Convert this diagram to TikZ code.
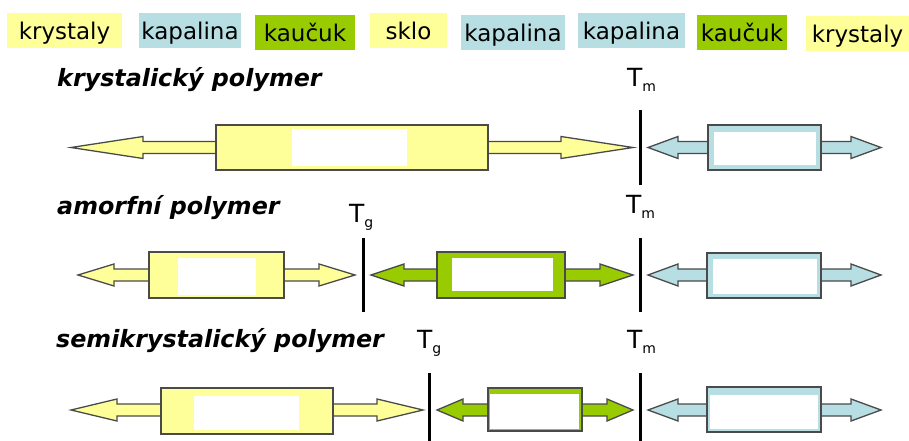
\documentclass[tikz,border=0pt]{standalone}
\usepackage{fontspec}
\setmainfont{DejaVu Sans}
\definecolor{zluta}{HTML}{FFFF99}
\definecolor{modra}{HTML}{B7DEE2}
\definecolor{zelena}{HTML}{99CC00}
\definecolor{obrys}{HTML}{4A4A4A}
\newcommand{\tlabel}[1]{T\raisebox{-5pt}{\fontsize{14}{14}\selectfont #1}}
\newcommand{\twoway}[5]{%
  \path[draw=obrys, line width=1.3pt, fill=#5] (#1,#3) -- ({#1+#4},{#3-11}) -- ({#1+#4},{#3-6})
    -- ({#2-#4},{#3-6}) -- ({#2-#4},{#3-11}) -- (#2,#3) -- ({#2-#4},{#3+11})
    -- ({#2-#4},{#3+6}) -- ({#1+#4},{#3+6}) -- ({#1+#4},{#3+11}) -- cycle;}
\begin{document}
\begin{tikzpicture}[x=1pt, y=-1pt,
  lab/.style={anchor=base, inner xsep=0pt, inner ysep=0pt, text height=27pt, text depth=8pt, font=\fontsize{23}{23}\selectfont},
  title/.style={anchor=base west, inner sep=0pt, font=\fontsize{23.8}{24}\selectfont\bfseries\itshape},
  temp/.style={anchor=base west, inner sep=0pt, font=\fontsize{25}{25}\selectfont},
  body/.style={draw=obrys, line width=1.3pt, inner sep=0pt},
  okno/.style={fill=white, inner sep=0pt},
  mez/.style={line width=3pt}]
\useasboundingbox (0,0) rectangle (909,441);
\node[lab, fill=zluta, minimum width=115pt] (l1) at (64.5,40) {krystaly};
\node[lab, fill=modra, minimum width=102pt] (l2) at (190,40) {kapalina};
\node[lab, fill=zelena, minimum width=100pt] (l3) at (305,41.7) {kaučuk};
\node[lab, fill=zluta, minimum width=77pt] (l4) at (408.5,40) {sklo};
\node[lab, fill=modra, minimum width=104pt] (l5) at (513,41.7) {kapalina};
\node[lab, fill=modra, minimum width=107pt] (l6) at (631.5,40) {kapalina};
\node[lab, fill=zelena, minimum width=90pt] (l7) at (742,41.7) {kaučuk};
\node[lab, fill=zluta, minimum width=103pt] (l8) at (857.5,42.7) {krystaly};

\node[title] (t1) at (57,87) {krystalický polymer};
\node[title] (t2) at (57,214) {amorfní polymer};
\node[title] (t3) at (56,347) {semikrystalický polymer};

\node[temp] (m1) at (627,87) {\tlabel{m}};
\node[temp] (g2) at (349,222) {\tlabel{g}};
\node[temp] (m2) at (626,213) {\tlabel{m}};
\node[temp] (g3) at (417,348) {\tlabel{g}};
\node[temp] (m3) at (627,348) {\tlabel{m}};

\coordinate (m1a) at (640,110);
\coordinate (m1b) at (640,185);
\coordinate (g2a) at (363,238);
\coordinate (g2b) at (363,312);
\coordinate (m2a) at (640,238);
\coordinate (m2b) at (640,312);
\coordinate (g3a) at (429,373);
\coordinate (g3b) at (429,441);
\coordinate (m3a) at (640,373);
\coordinate (m3b) at (640,441);
\path[draw,mez] (m1a) -- (m1b);
\path[draw,mez] (g2a) -- (g2b);
\path[draw,mez] (m2a) -- (m2b);
\path[draw,mez] (g3a) -- (g3b);
\path[draw,mez] (m3a) -- (m3b);

\twoway{71}{633}{147.5}{72}{zluta}
\node[body, fill=zluta, minimum width=272pt, minimum height=45pt] (k1) at (352,147.5) {};
\node[okno, minimum width=115pt, minimum height=37pt] (w1) at (349.5,147.5) {};
\twoway{648}{881}{147.5}{30}{modra}
\node[body, fill=modra, minimum width=113pt, minimum height=45pt] (k2) at (764.5,147.5) {};
\node[okno, minimum width=102pt, minimum height=33pt] (w2) at (765,148.5) {};

\twoway{78}{355}{275}{36}{zluta}
\node[body, fill=zluta, minimum width=135pt, minimum height=46pt] (a1) at (216.5,275) {};
\node[okno, minimum width=78pt, minimum height=37pt] (w3) at (217,276.5) {};
\twoway{371}{633}{275}{33}{zelena}
\node[body, fill=zelena, minimum width=128pt, minimum height=46pt] (a2) at (501,275) {};
\node[okno, minimum width=101pt, minimum height=33pt] (w4) at (502.5,274.5) {};
\twoway{648}{881}{275}{30}{modra}
\node[body, fill=modra, minimum width=114pt, minimum height=45pt] (a3) at (764,275.5) {};
\node[okno, minimum width=104pt, minimum height=35pt] (w5) at (765,276.5) {};

\twoway{71}{423}{410}{46}{zluta}
\node[body, fill=zluta, minimum width=172pt, minimum height=46pt] (s1) at (247,411) {};
\node[okno, minimum width=105pt, minimum height=34pt] (w6) at (246.5,413) {};
\twoway{437}{633}{410}{26}{zelena}
\node[body, fill=zelena, minimum width=94pt, minimum height=43pt] (s2) at (535,409.5) {};
\node[okno, minimum width=89pt, minimum height=35pt] (w7) at (534.5,411.5) {};
\twoway{648}{881}{410}{30}{modra}
\node[body, fill=modra, minimum width=114pt, minimum height=45pt] (s3) at (764,409.5) {};
\node[okno, minimum width=108pt, minimum height=34pt] (w8) at (764,412) {};
\end{tikzpicture}
\end{document}
